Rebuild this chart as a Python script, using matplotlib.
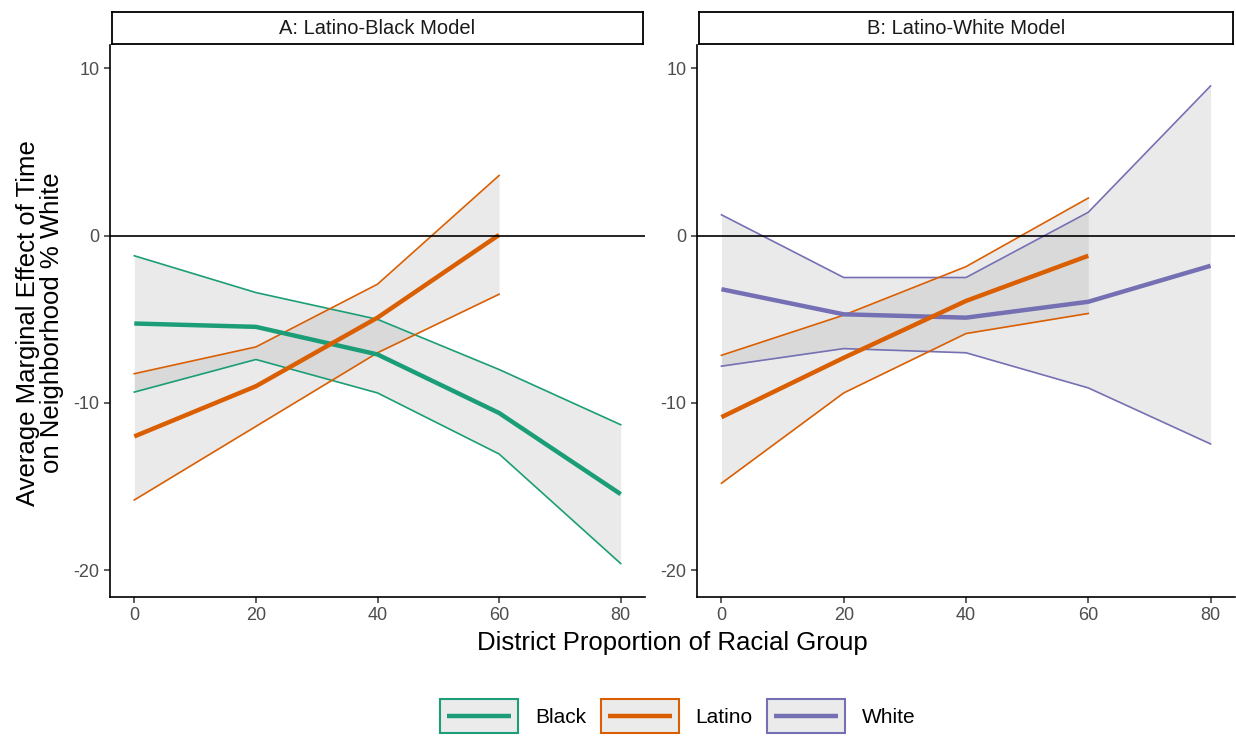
import matplotlib
matplotlib.use('Agg')
import matplotlib.pyplot as plt
from matplotlib.lines import Line2D
from matplotlib.patches import Rectangle
from matplotlib.legend_handler import HandlerBase

plt.rcParams['font.family'] = ['Liberation Sans', 'DejaVu Sans']
plt.rcParams['axes.unicode_minus'] = False

# District proportion of racial group
x = [0, 20, 40, 60, 80]
x_lat = [0, 20, 40, 60]

# Panel A: Latino-Black model
a_black_mean = [-5.25, -5.45, -7.1, -10.6, -15.45]
a_black_hi = [-1.2, -3.4, -5.0, -8.0, -11.3]
a_black_lo = [-9.35, -7.4, -9.4, -13.05, -19.6]
a_lat_mean = [-12.0, -9.0, -4.9, 0.05]
a_lat_hi = [-8.25, -6.65, -2.9, 3.6]
a_lat_lo = [-15.8, -11.4, -7.0, -3.5]

# Panel B: Latino-White model
b_white_mean = [-3.2, -4.7, -4.9, -3.95, -1.8]
b_white_hi = [1.25, -2.5, -2.5, 1.4, 8.95]
b_white_lo = [-7.8, -6.75, -7.0, -9.1, -12.45]
b_lat_mean = [-10.85, -7.3, -3.9, -1.2]
b_lat_hi = [-7.15, -4.75, -1.85, 2.25]
b_lat_lo = [-14.8, -9.4, -5.85, -4.65]

colors = {'Black': '#1b9e77', 'Latino': '#d95f02', 'White': '#7570b3'}
titles = ['A: Latino-Black Model', 'B: Latino-White Model']


class RibbonKey(HandlerBase):
    # grey box with coloured border and an inset line, like ggplot's ribbon key
    def create_artists(self, legend, orig_handle, xdescent, ydescent,
                       width, height, fontsize, trans):
        c = orig_handle.get_color()
        rect = Rectangle((-xdescent, -ydescent), width, height,
                         facecolor='#ebebeb', edgecolor=c, lw=1.5, transform=trans)
        pad = width * 0.09
        ym = -ydescent + height / 2
        line = Line2D([-xdescent + pad, -xdescent + width - pad], [ym, ym],
                      color=c, lw=3.2, solid_capstyle='butt', transform=trans)
        return [rect, line]


fig = plt.figure(figsize=(12.36, 7.38), dpi=100)
W, H = 1236, 738
panels = [
    (110, 645, [('Black', x, a_black_mean, a_black_lo, a_black_hi),
                ('Latino', x_lat, a_lat_mean, a_lat_lo, a_lat_hi)]),
    (697, 1235, [('White', x, b_white_mean, b_white_lo, b_white_hi),
                 ('Latino', x_lat, b_lat_mean, b_lat_lo, b_lat_hi)]),
]

for i, (x0, x1, series) in enumerate(panels):
    ax = fig.add_axes([x0 / W, 1 - 597 / H, (x1 - x0) / W, (597 - 45) / H])
    for name, xs, mean, lo, hi in series:
        c = colors[name]
        ax.fill_between(xs, lo, hi, color='#999999', alpha=0.2, lw=0)
        ax.plot(xs, lo, color=c, lw=1.2)
        ax.plot(xs, hi, color=c, lw=1.2)
    for name, xs, mean, lo, hi in series:
        ax.plot(xs, mean, color=colors[name], lw=3.2, solid_capstyle='butt')
    ax.axhline(0, color='black', lw=1.2)
    ax.set_xlim(-4, 84)
    ax.set_ylim(-21.6, 11.4)
    ax.set_xticks([0, 20, 40, 60, 80])
    ax.set_yticks([-20, -10, 0, 10])
    ax.tick_params(labelsize=13, colors='#4d4d4d', length=4, width=1.1)
    ax.tick_params(axis='both', color='#333333')
    for s in ['top', 'right']:
        ax.spines[s].set_visible(False)
    for s in ['left', 'bottom']:
        ax.spines[s].set_linewidth(1.2)

    # facet strip
    sax = fig.add_axes([(x0 + 2) / W, 1 - 44 / H, (x1 - x0 - 4) / W, 32 / H])
    sax.set_xticks([])
    sax.set_yticks([])
    for s in sax.spines.values():
        s.set_linewidth(1.3)
    sax.text(0.5, 0.5, titles[i], ha='center', va='center', fontsize=14.5,
             color='#1a1a1a', transform=sax.transAxes)

fig.text(672 / W, 1 - 643 / H, 'District Proportion of Racial Group',
         ha='center', va='center', fontsize=18.5)
fig.text(40 / W, 1 - 323 / H, 'Average Marginal Effect of Time\non Neighborhood % White',
         ha='center', va='center', rotation=90, fontsize=18.5, linespacing=1.05)

handles = [Line2D([0], [0], color=colors[n]) for n in ['Black', 'Latino', 'White']]
fig.legend(handles, ['Black', 'Latino', 'White'], loc='center',
           bbox_to_anchor=(678 / W, 1 - 716 / H), ncol=3, frameon=False,
           fontsize=15, handlelength=3.75, handleheight=2.2,
           handler_map={Line2D: RibbonKey()}, columnspacing=0.7,
           handletextpad=0.8)

fig.savefig('out.png', dpi=100)
